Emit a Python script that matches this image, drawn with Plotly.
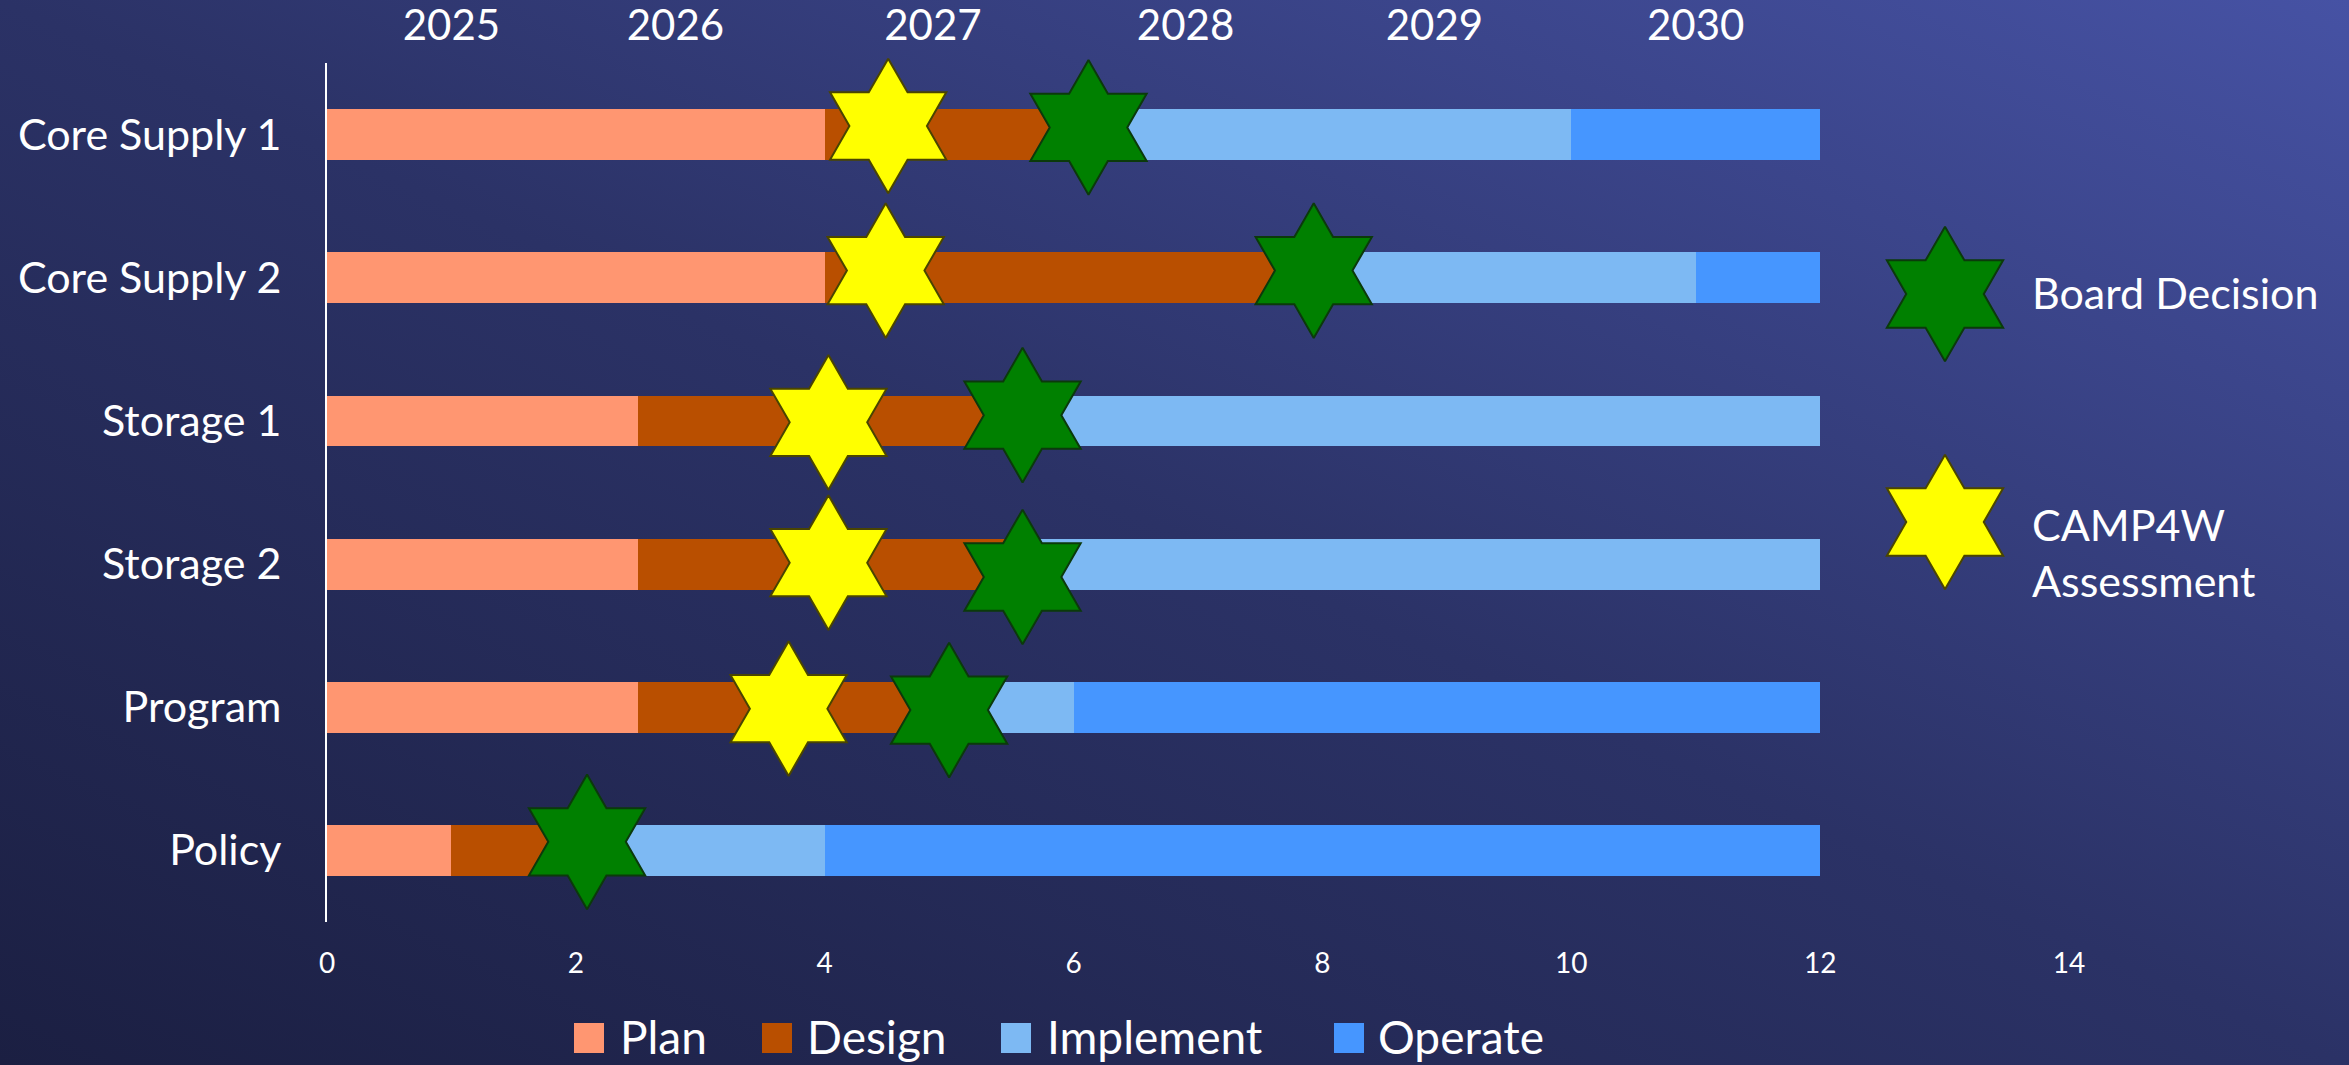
import base64
import plotly.graph_objects as go

# ---------------- data ----------------
categories = ["Core Supply 1", "Core Supply 2", "Storage 1", "Storage 2", "Program", "Policy"]
row_index = [0, 1, 2, 3, 4, 5]
phases = ["Plan", "Design", "Implement", "Operate"]
plan = [4, 4, 2.5, 2.5, 2.5, 1]
design = [2, 4, 3, 3, 2.5, 1]
implement = [4, 3, 6.5, 6.5, 1, 2]
operate = [2, 1, 0, 0, 6, 8]

camp4w_x = [4.51, 4.49, 4.03, 4.03, 3.71]
camp4w_y = [-0.06, 0.95, 2.01, 2.99, 4.01]
board_x = [6.12, 7.93, 5.59, 5.59, 5.00, 2.09]
board_y = [-0.05, 0.95, 1.96, 3.09, 4.02, 4.94]

x_ticks = [0, 2, 4, 6, 8, 10, 12, 14]
years = ["2025", "2026", "2027", "2028", "2029", "2030"]
year_pos = [1.0, 2.8, 4.87, 6.9, 8.9, 11.0]

marker_names = ["Board Decision", "CAMP4W<br>Assessment"]

# ---------------- style ----------------
W, H = 2349, 1065
PL, PR, PT, PB = 327, 2069, 63, 922
phase_colors = ["#FF9671", "#B94F00", "#7DB9F3", "#4696FF"]
FONT = "Lato"
YEL, YEL_LINE = "#FFFF00", "#4a4500"
GRN, GRN_LINE = "#008000", "#0b3a0b"
STAR = 102

svg = (
    f'<svg xmlns="http://www.w3.org/2000/svg" width="{W}" height="{H}" viewBox="0 0 {W} {H}" preserveAspectRatio="none">'
    '<defs><linearGradient id="g" x1="0" y1="1" x2="1" y2="0">'
    '<stop offset="0" stop-color="#1b1f42"/>'
    '<stop offset="0.5" stop-color="#2b3266"/>'
    '<stop offset="1" stop-color="#4652a4"/>'
    '</linearGradient></defs>'
    f'<rect x="0" y="0" width="{W}" height="{H}" fill="url(#g)"/></svg>'
)
bg_src = "data:image/svg+xml;base64," + base64.b64encode(svg.encode()).decode()

fig = go.Figure()

for name, vals, col in zip(phases, [plan, design, implement, operate], phase_colors):
    fig.add_trace(go.Bar(
        y=row_index, x=vals, name=name, orientation="h", width=0.355,
        marker=dict(color=col, line=dict(width=0)), showlegend=False,
        hoverinfo="x+name",
    ))

fig.add_trace(go.Scatter(
    x=camp4w_x, y=camp4w_y, mode="markers", name="CAMP4W Assessment",
    marker=dict(symbol="hexagram", size=STAR, color=YEL, line=dict(color=YEL_LINE, width=2)),
    showlegend=False, cliponaxis=False,
))
fig.add_trace(go.Scatter(
    x=board_x, y=board_y, mode="markers", name="Board Decision",
    marker=dict(symbol="hexagram", size=STAR, color=GRN, line=dict(color=GRN_LINE, width=2)),
    showlegend=False, cliponaxis=False,
))

# top year axis carrier
fig.add_trace(go.Scatter(x=year_pos, y=[None] * len(year_pos), xaxis="x2", yaxis="y",
                         mode="markers", showlegend=False, hoverinfo="skip"))

# star legend (paper-like overlay axes)
leg_star_x = 1945 / W
leg_star_y = [1 - 294 / H, 1 - 522 / H]
fig.add_trace(go.Scatter(
    x=[leg_star_x], y=[leg_star_y[0]], xaxis="x3", yaxis="y3", mode="markers",
    marker=dict(symbol="hexagram", size=STAR, color=GRN, line=dict(color=GRN_LINE, width=2)),
    showlegend=False, hoverinfo="skip", cliponaxis=False,
))
fig.add_trace(go.Scatter(
    x=[leg_star_x], y=[leg_star_y[1]], xaxis="x3", yaxis="y3", mode="markers",
    marker=dict(symbol="hexagram", size=STAR, color=YEL, line=dict(color=YEL_LINE, width=2)),
    showlegend=False, hoverinfo="skip", cliponaxis=False,
))

annotations = [
    dict(x=2030 / W, y=1 - 293 / H, xref="paper", yref="paper", text=marker_names[0],
         showarrow=False, xanchor="left", yanchor="middle", align="left",
         font=dict(family=FONT, size=43, color="white")),
    dict(x=2030 / W, y=1 - 552 / H, xref="paper", yref="paper", text=marker_names[1],
         showarrow=False, xanchor="left", yanchor="middle", align="left",
         font=dict(family=FONT, size=43, color="white")),
]

# bottom phase legend
sq_left = [574, 762, 1001, 1334]
txt_left = [618, 805, 1045, 1376]
shapes = []
for name, col, sx, tx in zip(phases, phase_colors, sq_left, txt_left):
    shapes.append(dict(type="rect", xref="paper", yref="paper",
                       x0=sx / W, x1=(sx + 30) / W, y0=1 - 1053 / H, y1=1 - 1023 / H,
                       fillcolor=col, line=dict(width=0)))
    annotations.append(dict(x=tx / W, y=1 - 1036 / H, xref="paper", yref="paper", text=name,
                            showarrow=False, xanchor="left", yanchor="middle",
                            font=dict(family=FONT, size=46, color="white")))

fig.update_layout(
    width=W, height=H, autosize=False,
    margin=dict(l=0, r=0, t=0, b=0, pad=0),
    paper_bgcolor="#2b3266", plot_bgcolor="rgba(0,0,0,0)",
    barmode="stack", showlegend=False,
    font=dict(family=FONT, color="white"),
    images=[dict(source=bg_src, xref="paper", yref="paper", x=0, y=1, sizex=1, sizey=1,
                 sizing="stretch", layer="below", xanchor="left", yanchor="top")],
    xaxis=dict(domain=[PL / W, PR / W], range=[0, 14], tickvals=x_ticks, showgrid=False,
               zeroline=False, showline=False, ticks="", ticklabelstandoff=22,
               tickfont=dict(family=FONT, size=28, color="white"), automargin=False),
    xaxis2=dict(overlaying="x", side="top", range=[0, 14], tickvals=year_pos, ticktext=years,
                showgrid=False, zeroline=False, showline=False, ticks="", ticklabelstandoff=14,
                tickfont=dict(family=FONT, size=42, color="white"), automargin=False),
    yaxis=dict(domain=[1 - PB / H, 1 - PT / H], range=[5.5, -0.5], tickvals=row_index,
               ticktext=categories, showgrid=False, zeroline=False, showline=True,
               linecolor="white", linewidth=2, ticks="", ticklabelstandoff=35,
               tickfont=dict(family=FONT, size=43, color="white"), automargin=False),
    xaxis3=dict(domain=[0, 1], range=[0, 1], anchor="y3", visible=False),
    yaxis3=dict(domain=[0, 1], range=[0, 1], anchor="x3", visible=False),
    shapes=shapes,
    annotations=annotations,
)

fig.write_html("out.html", config={"displayModeBar": False},
               post_script="document.body.style.margin='0';document.body.style.overflow='hidden';")
